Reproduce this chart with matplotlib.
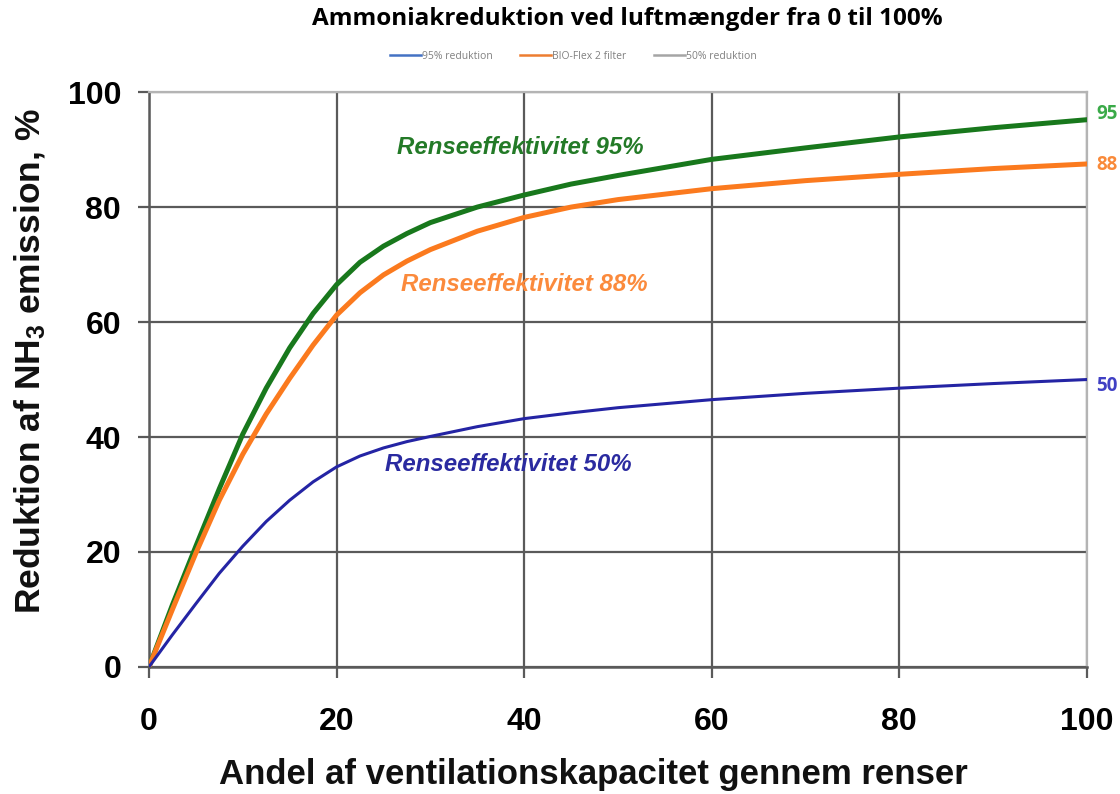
import matplotlib
matplotlib.use("Agg")
import matplotlib.pyplot as plt
from matplotlib.lines import Line2D

# Share of ventilation capacity through the scrubber (%)
andel = [0, 2.5, 5, 7.5, 10, 12.5, 15, 17.5, 20, 22.5, 25, 27.5, 30,
         35, 40, 45, 50, 60, 70, 80, 90, 100]

# Reduction of NH3 emission (%) for each cleaning efficiency
eff_95 = [0, 10.8, 21, 31, 40.5, 48.5, 55.5, 61.5, 66.5, 70.4, 73.2, 75.4, 77.3,
          80, 82.1, 84, 85.5, 88.3, 90.3, 92.2, 93.8, 95.2]
eff_88 = [0, 10, 19.8, 29, 37, 44, 50.2, 56, 61.2, 65.1, 68.2, 70.6, 72.6,
          75.8, 78.2, 80, 81.3, 83.2, 84.6, 85.7, 86.7, 87.5]
eff_50 = [0, 5.6, 11, 16.3, 21, 25.3, 29, 32.2, 34.8, 36.7, 38.1, 39.2, 40.1,
          41.8, 43.2, 44.2, 45.1, 46.5, 47.6, 48.5, 49.3, 50]

end_labels = ["95", "88", "50"]
legend_labels = ["95% reduktion", "BIO-Flex 2 filter", "50% reduktion"]

plt.rcParams["font.family"] = ["Liberation Sans", "DejaVu Sans"]
plt.rcParams["mathtext.fontset"] = "custom"
plt.rcParams["mathtext.bf"] = "Liberation Sans:bold"
plt.rcParams["mathtext.rm"] = "Liberation Sans"

fig = plt.figure(figsize=(11.2, 7.94), dpi=100)
ax = fig.add_axes([0.133, 0.160, 0.8375, 0.724])

green = "#18781c"
orange = "#fb7a1e"
blue = "#2424a4"

ax.plot(andel, eff_95, color=green, lw=3.6, solid_capstyle="round",
        solid_joinstyle="round", zorder=4)
ax.plot(andel, eff_88, color=orange, lw=3.6, solid_capstyle="round",
        solid_joinstyle="round", zorder=4)
ax.plot(andel, eff_50, color=blue, lw=2.2, solid_capstyle="round",
        solid_joinstyle="round", zorder=4)

ax.set_xlim(0, 100)
ax.set_ylim(0, 100)
ax.set_xticks(range(0, 101, 20))
ax.set_yticks(range(0, 101, 20))
ax.grid(True, color="#5a5a5a", lw=1.6)
ax.set_axisbelow(True)

for side in ["top", "right"]:
    ax.spines[side].set_color("#b4b4b4")
    ax.spines[side].set_linewidth(1.6)
for side in ["left", "bottom"]:
    ax.spines[side].set_color("#5a5a5a")
    ax.spines[side].set_linewidth(1.8)

ax.tick_params(axis="both", direction="out", length=8, width=1.6,
               color="#5a5a5a", labelsize=23)
ax.tick_params(axis="x", pad=21)
ax.tick_params(axis="y", pad=12)
for lab in ax.get_xticklabels() + ax.get_yticklabels():
    lab.set_fontweight("bold")

# axis titles
fig.text(0.530, 0.024, "Andel af ventilationskapacitet gennem renser",
         fontsize=25, fontweight="bold", color="#111111",
         ha="center", va="center")
fig.text(0.027, 0.545, r"Reduktion af NH$\mathbf{_3}$ emission, %",
         fontsize=25.5, fontweight="bold", color="#111111",
         rotation=90, ha="center", va="center")

# curve annotations
ax.text(39.6, 90.4, "Renseeffektivitet 95%", color="#237a27", fontsize=17.3,
        fontweight="bold", style="italic", ha="center", va="center")
ax.text(40.0, 66.6, "Renseeffektivitet 88%", color="#fb8a3c", fontsize=17.3,
        fontweight="bold", style="italic", ha="center", va="center")
ax.text(38.3, 35.3, "Renseeffektivitet 50%", color="#2a2aa0", fontsize=17.3,
        fontweight="bold", style="italic", ha="center", va="center")

end_colors = ["#3aaa48", "#f98a3a", "#4040c4"]
end_y = [96.2, 87.4, 48.9]
for lab, yy, c in zip(end_labels, end_y, end_colors):
    ax.text(101.0, yy, lab, color=c, fontsize=13.5, fontweight="bold",
            ha="left", va="center", family=["Open Sans", "DejaVu Sans"],
            clip_on=False)

fig.text(0.56, 0.976, "Ammoniakreduktion ved luftmængder fra 0 til 100%",
         fontsize=17.5, fontweight="bold", ha="center", va="center",
         family=["Open Sans", "DejaVu Sans"])

handles = [Line2D([], [], color=c, lw=1.8)
           for c in ["#4472c4", "#ed7d31", "#a5a5a5"]]
leg = fig.legend(handles, legend_labels, loc="center", ncol=3,
                 bbox_to_anchor=(0.512, 0.929), frameon=False,
                 handlelength=3.0, columnspacing=2.6, handletextpad=0.1,
                 prop={"family": ["Open Sans", "DejaVu Sans"], "size": 7.5})
for t in leg.get_texts():
    t.set_color("#808080")

fig.savefig("out.png", dpi=100)
